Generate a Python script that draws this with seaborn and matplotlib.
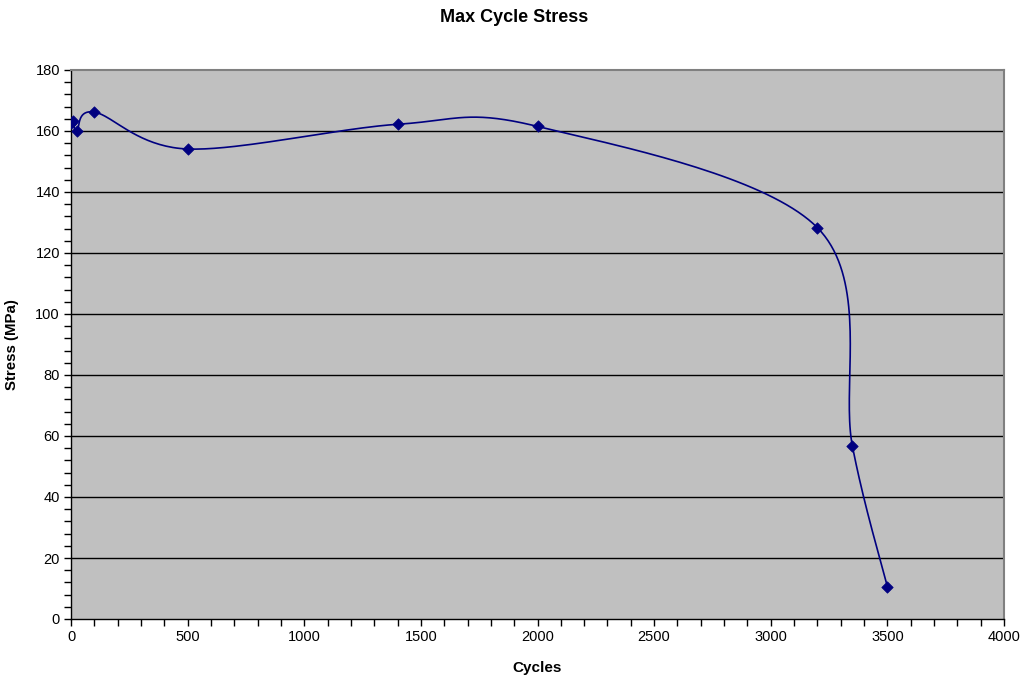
import numpy as np
import pandas as pd
import matplotlib
matplotlib.use("Agg")
import matplotlib.pyplot as plt
from matplotlib.ticker import MultipleLocator
import seaborn as sns

# Fatigue test readings
cycles = [1, 10, 25, 100, 500, 1400, 2000, 3200, 3350, 3500]
stress = [162.5, 163.2, 160.1, 166.2, 154.1, 162.2, 161.5, 128.3, 56.7, 10.6]

title = "Max Cycle Stress"
x_label = "Cycles"
y_label = "Stress (MPa)"

df = pd.DataFrame({"Cycles": cycles, "Stress": stress})

sns.set_theme(style="white")
plt.rcParams["font.family"] = ["Liberation Sans", "DejaVu Sans"]
plt.rcParams["text.color"] = "black"
plt.rcParams["axes.labelcolor"] = "black"

fig = plt.figure(figsize=(10.24, 6.81), dpi=100)
ax = fig.add_axes([71 / 1024, (681 - 619) / 681, (1004 - 71) / 1024, (619 - 70) / 681])
ax.set_facecolor("#C0C0C0")

ax.set_xlim(0, 4000)
ax.set_ylim(0, 180)


def smooth_curve(ax, xs, ys, steps=40):
    """Bezier smoothing in display space, like a spreadsheet's smoothed line."""
    pts = ax.transData.transform(np.column_stack([xs, ys]))
    n = len(pts)
    out = [pts[0]]
    for i in range(n - 1):
        p0 = pts[i - 1] if i > 0 else pts[i]
        p1 = pts[i]
        p2 = pts[i + 1]
        p3 = pts[i + 2] if i + 2 < n else pts[i + 1]
        c1 = p1 + (p2 - p0) / 6.0
        c2 = p2 - (p3 - p1) / 6.0
        t = np.linspace(0, 1, steps)[1:, None]
        seg = ((1 - t) ** 3) * p1 + 3 * ((1 - t) ** 2) * t * c1 + 3 * (1 - t) * t ** 2 * c2 + t ** 3 * p2
        out.extend(seg)
    out = np.array(out)
    data = ax.transData.inverted().transform(out)
    return data[:, 0], data[:, 1]


sx, sy = smooth_curve(ax, np.array(cycles, float), np.array(stress, float))
ax.plot(sx, sy, color="#000080", lw=1.2, zorder=3)
sns.scatterplot(data=df, x="Cycles", y="Stress", ax=ax, marker="D", s=34,
                color="#000080", edgecolor="#000080", linewidth=0.5, zorder=4)

# grid
ax.yaxis.set_major_locator(MultipleLocator(20))
ax.yaxis.set_minor_locator(MultipleLocator(4))
ax.xaxis.set_major_locator(MultipleLocator(500))
ax.xaxis.set_minor_locator(MultipleLocator(100))
ax.grid(False)
for yv in range(20, 180, 20):
    ax.axhline(yv, color="black", lw=1.0, zorder=1)

ax.tick_params(axis="both", which="both", direction="out", color="black",
               width=1.0, labelsize=10.5, labelcolor="black", pad=3)
ax.tick_params(axis="both", which="major", length=5)
ax.tick_params(axis="both", which="minor", length=5)
ax.tick_params(axis="x", which="both", bottom=True)
ax.tick_params(axis="y", which="both", left=True)

for side in ("left", "bottom"):
    ax.spines[side].set_color("black")
    ax.spines[side].set_linewidth(1.0)
for side in ("top", "right"):
    ax.spines[side].set_visible(True)
    ax.spines[side].set_color("#808080")
    ax.spines[side].set_linewidth(1.5)

ax.set_xlabel(x_label, fontsize=11, fontweight="bold", labelpad=12)
ax.set_ylabel(y_label, fontsize=10.8, fontweight="bold", labelpad=12)
fig.text(514 / 1024, 1 - 17 / 681, title, ha="center", va="center",
         fontsize=13, fontweight="bold")

fig.savefig("out.png", dpi=100)
